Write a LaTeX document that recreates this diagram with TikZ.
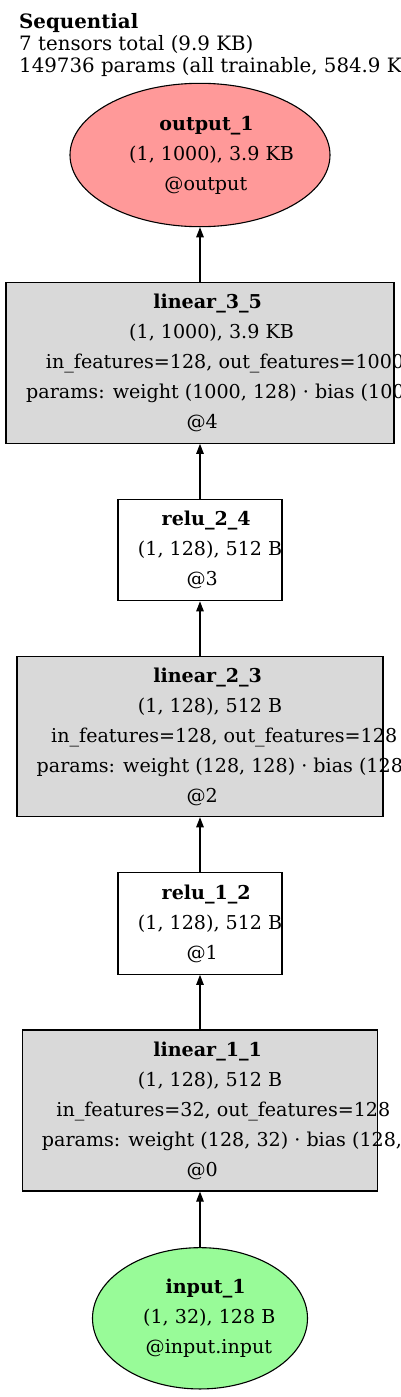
\documentclass[tikz,border=0pt]{standalone}
\usepackage{fontspec}
\setmainfont{DejaVu Serif}
\usetikzlibrary{shapes.geometric,arrows.meta}

\definecolor{outred}{HTML}{FF9999}
\definecolor{ingreen}{HTML}{98FB98}
\definecolor{laygray}{HTML}{D9D9D9}

\newcommand{\nodefont}{\fontsize{19.1}{30}\selectfont}
\newcommand{\headfont}{\fontsize{19.8}{22}\selectfont}
% each line sits where the layout engine put it, a bit too far left
\newcommand{\gvline}[1]{\makebox[0.86\width][l]{#1}}

\begin{document}
\begin{tikzpicture}[x=1pt, y=-1pt,
    layer/.style={draw, line width=1.1pt, fill=laygray, align=center,
      inner sep=0pt, font=\nodefont},
    act/.style={draw, line width=1.1pt, fill=white, align=center,
      inner sep=0pt, font=\nodefont, minimum width=164pt, minimum height=101.6pt},
    io/.style={ellipse, draw, line width=1.1pt, align=center,
      inner sep=0pt, font=\nodefont},
    edge/.style={-{Triangle[length=10pt,width=7.5pt]}, line width=1.1pt}]

  \useasboundingbox (0,0) rectangle (400,1397);

  % header
  \node[anchor=north west, inner sep=0pt, align=left, font=\headfont] (title) at (19,13)
    {\textbf{Sequential}\\7 tensors total (9.9 KB)\\149736 params (all trainable, 584.9 KB)};

  % output
  \node[io, fill=outred, minimum width=260pt, minimum height=143.4pt] (output) at (200,155)
    {\gvline{\textbf{output\_1}}\\\gvline{(1, 1000), 3.9 KB}\\\gvline{@output}};

  % layers, top to bottom
  \node[layer, minimum width=388pt, minimum height=160.6pt] (linear3) at (200,363)
    {\gvline{\textbf{linear\_3\_5}}\\\gvline{(1, 1000), 3.9 KB}\\
     \gvline{in\_features=128, out\_features=1000}\\
     \gvline{params: weight (1000, 128) · bias (1000,)}\\\gvline{@4}};

  \node[act] (relu2) at (200,550)
    {\gvline{\textbf{relu\_2\_4}}\\\gvline{(1, 128), 512 B}\\\gvline{@3}};

  \node[layer, minimum width=366pt, minimum height=160pt] (linear2) at (200,736.7)
    {\gvline{\textbf{linear\_2\_3}}\\\gvline{(1, 128), 512 B}\\
     \gvline{in\_features=128, out\_features=128}\\
     \gvline{params: weight (128, 128) · bias (128,)}\\\gvline{@2}};

  \node[act] (relu1) at (200,923.5)
    {\gvline{\textbf{relu\_1\_2}}\\\gvline{(1, 128), 512 B}\\\gvline{@1}};

  \node[layer, minimum width=355.7pt, minimum height=161pt] (linear1) at (200,1110.5)
    {\gvline{\textbf{linear\_1\_1}}\\\gvline{(1, 128), 512 B}\\
     \gvline{in\_features=32, out\_features=128}\\
     \gvline{params: weight (128, 32) · bias (128,)}\\\gvline{@0}};

  % input
  \node[io, fill=ingreen, minimum width=215pt, minimum height=141.3pt] (input) at (200,1318.3)
    {\gvline{\textbf{input\_1}}\\\gvline{(1, 32), 128 B}\\\gvline{@input.input}};

  % edges
  \draw[edge] (input.north) -- (linear1.south);
  \draw[edge] (linear1.north) -- (relu1.south);
  \draw[edge] (relu1.north) -- (linear2.south);
  \draw[edge] (linear2.north) -- (relu2.south);
  \draw[edge] (relu2.north) -- (linear3.south);
  \draw[edge] (linear3.north) -- (output.south);
\end{tikzpicture}
\end{document}
